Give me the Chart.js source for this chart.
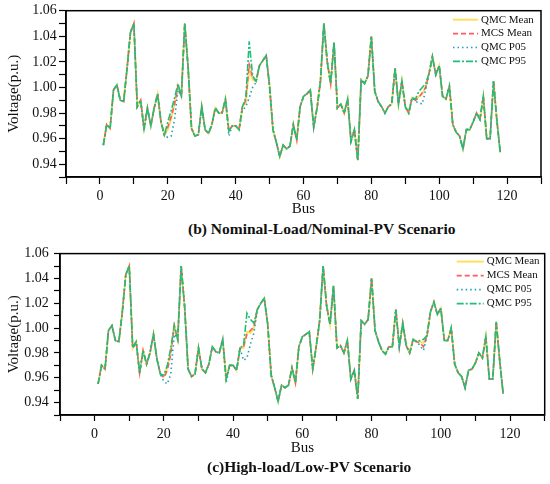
<!DOCTYPE html>
<html><head><meta charset="utf-8">
<script src="https://cdn.jsdelivr.net/npm/chart.js@4.4.0/dist/chart.umd.min.js"></script>
<style>
html,body{margin:0;padding:0;background:#fff;width:550px;height:484px;overflow:hidden;}
.wrap{position:absolute;left:0;width:550px;height:220px;}
.cap{position:absolute;white-space:nowrap;font:bold 15.5px "Liberation Serif",serif;color:#111;line-height:18px;}
</style></head><body>
<div class="wrap" style="top:0"><canvas id="chartB" width="550" height="220"></canvas></div>
<div class="wrap" style="top:240px"><canvas id="chartC" width="550" height="220"></canvas></div>
<div class="cap" id="capB" style="left:188px;top:220px">(b) Nominal-Load/Nominal-PV Scenario</div>
<div class="cap" id="capC" style="left:207px;top:458px">(c)High-load/Low-PV Scenario</div>
<script>
const BUS = [1,2,3,4,5,6,7,8,9,10,11,12,13,14,15,16,17,18,19,20,21,22,23,24,25,26,27,28,29,30,
31,32,33,34,35,36,37,38,39,40,41,42,43,44,45,46,47,48,49,50,51,52,53,54,55,56,57,58,59,60,
61,62,63,64,65,66,67,68,69,70,71,72,73,74,75,76,77,78,79,80,81,82,83,84,85,86,87,88,89,90,
91,92,93,94,95,96,97,98,99,100,101,102,103,104,105,106,107,108,109,110,111,112,113,114,115,116,117,118];

const SERIES_NAMES = ['QMC Mean','MCS Mean','QMC P05','QMC P95'];
const X_TICK_LABELS = [0,20,40,60,80,100,120];
const Y_TICK_LABELS = ['0.94','0.96','0.98','1.00','1.02','1.04','1.06'];

// (b) Nominal-Load / Nominal-PV
const B_QMC_MEAN = [0.955,0.971,0.968,0.998,1.002,0.990,0.989,1.015,1.043,1.050,
0.985,0.990,0.968,0.984,0.970,0.984,0.995,0.973,0.963,0.967,
0.976,0.987,1.001,0.993,1.050,1.015,0.968,0.962,0.963,0.985,
0.967,0.964,0.971,0.984,0.980,0.980,0.991,0.966,0.970,0.970,
0.967,0.985,0.988,1.015,1.006,1.005,1.017,1.021,1.025,1.001,
0.967,0.957,0.946,0.955,0.952,0.954,0.971,0.959,0.985,0.993,
0.995,0.998,0.969,0.984,1.005,1.050,1.020,1.003,1.035,0.984,
0.987,0.980,0.991,0.958,0.967,0.943,1.006,1.003,1.009,1.040,
0.997,0.989,0.985,0.980,0.985,0.987,1.015,0.987,1.005,0.985,
0.980,0.992,0.990,0.993,0.995,1.000,1.011,1.024,1.010,1.017,
0.993,0.991,1.001,0.971,0.965,0.962,0.952,0.967,0.967,0.973,
0.980,0.975,0.993,0.960,0.960,1.005,0.974,0.949];
const B_MCS_MEAN = [0.955,0.971,0.968,0.998,1.002,0.990,0.989,1.015,1.043,1.050,
0.985,0.990,0.968,0.984,0.970,0.984,0.995,0.973,0.963,0.969,
0.977,0.987,1.001,0.993,1.050,1.015,0.968,0.962,0.963,0.985,
0.967,0.964,0.971,0.984,0.980,0.980,0.991,0.966,0.970,0.970,
0.967,0.985,0.990,1.018,1.008,1.005,1.017,1.021,1.025,1.001,
0.967,0.957,0.946,0.955,0.952,0.954,0.971,0.959,0.985,0.993,
0.995,0.998,0.969,0.984,1.005,1.050,1.020,1.003,1.035,0.984,
0.987,0.980,0.991,0.958,0.967,0.943,1.006,1.003,1.009,1.040,
0.997,0.989,0.985,0.980,0.985,0.987,1.015,0.987,1.005,0.985,
0.980,0.992,0.990,0.992,0.996,1.000,1.011,1.024,1.010,1.017,
0.993,0.991,1.001,0.971,0.965,0.962,0.952,0.967,0.967,0.973,
0.980,0.975,0.993,0.960,0.960,1.005,0.974,0.949];
const B_QMC_P05 = [0.955,0.971,0.968,0.998,1.002,0.990,0.989,1.015,1.043,1.050,
0.985,0.990,0.966,0.984,0.970,0.984,0.995,0.973,0.962,0.961,
0.962,0.975,0.998,0.993,1.050,1.015,0.968,0.962,0.963,0.985,
0.967,0.964,0.971,0.984,0.980,0.980,0.990,0.962,0.970,0.970,
0.967,0.982,0.985,0.992,1.000,1.004,1.017,1.021,1.025,1.001,
0.967,0.957,0.946,0.955,0.952,0.954,0.971,0.959,0.985,0.993,
0.995,0.998,0.969,0.984,1.005,1.050,1.020,1.003,1.035,0.984,
0.987,0.980,0.991,0.958,0.967,0.943,1.006,1.003,1.009,1.040,
0.997,0.989,0.985,0.980,0.985,0.987,1.015,0.987,1.005,0.985,
0.980,0.992,0.989,0.988,0.987,0.998,1.011,1.024,1.010,1.017,
0.993,0.991,1.001,0.971,0.965,0.962,0.952,0.967,0.967,0.973,
0.980,0.975,0.993,0.960,0.960,1.005,0.974,0.949];
const B_QMC_P95 = [0.955,0.971,0.968,0.998,1.002,0.990,0.989,1.015,1.043,1.050,
0.985,0.990,0.968,0.984,0.970,0.984,0.995,0.973,0.963,0.973,
0.982,0.992,1.003,0.993,1.050,1.015,0.968,0.962,0.963,0.985,
0.967,0.964,0.971,0.984,0.980,0.980,0.991,0.966,0.970,0.970,
0.967,0.985,0.992,1.036,1.009,1.005,1.017,1.021,1.025,1.001,
0.967,0.957,0.946,0.955,0.952,0.954,0.971,0.959,0.985,0.993,
0.995,0.998,0.969,0.984,1.005,1.050,1.020,1.003,1.035,0.984,
0.987,0.980,0.991,0.958,0.967,0.943,1.006,1.003,1.009,1.040,
0.997,0.989,0.985,0.980,0.985,0.987,1.015,0.987,1.005,0.985,
0.980,0.992,0.991,0.997,1.000,1.003,1.011,1.024,1.010,1.017,
0.993,0.991,1.001,0.971,0.965,0.962,0.952,0.967,0.967,0.973,
0.980,0.975,0.993,0.960,0.960,1.005,0.974,0.949];

// (c) High-load / Low-PV
const C_QMC_MEAN = [0.955,0.970,0.967,0.998,1.002,0.990,0.989,1.013,1.043,1.050,
0.984,0.989,0.964,0.982,0.971,0.980,0.995,0.975,0.963,0.961,
0.968,0.982,1.002,0.991,1.050,1.017,0.967,0.961,0.963,0.984,
0.967,0.964,0.971,0.985,0.981,0.980,0.991,0.959,0.970,0.970,
0.966,0.984,0.984,0.997,0.996,1.000,1.015,1.020,1.024,1.003,
0.962,0.952,0.941,0.954,0.952,0.954,0.968,0.956,0.985,0.993,
0.995,0.997,0.967,0.985,1.006,1.050,1.018,1.003,1.034,0.984,
0.986,0.980,0.990,0.959,0.966,0.943,1.006,1.003,1.007,1.040,
0.998,0.989,0.982,0.979,0.985,0.985,1.015,0.985,1.004,0.986,
0.980,0.991,0.989,0.989,0.988,0.994,1.013,1.021,1.011,1.016,
0.990,0.990,1.000,0.971,0.964,0.961,0.952,0.966,0.967,0.972,
0.980,0.976,0.993,0.959,0.959,1.005,0.974,0.947];
const C_MCS_MEAN = [0.955,0.970,0.967,0.998,1.002,0.990,0.989,1.013,1.043,1.050,
0.984,0.989,0.964,0.982,0.971,0.980,0.995,0.975,0.963,0.960,
0.966,0.979,1.002,0.991,1.050,1.017,0.967,0.961,0.963,0.984,
0.967,0.964,0.971,0.985,0.981,0.980,0.991,0.959,0.970,0.970,
0.966,0.984,0.985,0.995,0.998,1.001,1.015,1.020,1.024,1.003,
0.962,0.952,0.941,0.954,0.952,0.954,0.968,0.956,0.985,0.993,
0.995,0.997,0.967,0.985,1.006,1.050,1.018,1.003,1.034,0.984,
0.986,0.980,0.990,0.959,0.966,0.943,1.006,1.003,1.007,1.040,
0.998,0.989,0.982,0.979,0.985,0.985,1.015,0.985,1.004,0.986,
0.980,0.991,0.989,0.988,0.985,0.994,1.013,1.021,1.011,1.016,
0.990,0.990,1.000,0.971,0.964,0.961,0.952,0.966,0.967,0.972,
0.980,0.976,0.993,0.959,0.959,1.005,0.974,0.947];
const C_QMC_P05 = [0.955,0.970,0.967,0.998,1.002,0.990,0.989,1.013,1.043,1.050,
0.984,0.989,0.963,0.982,0.971,0.980,0.995,0.975,0.963,0.957,
0.955,0.963,0.995,0.991,1.050,1.017,0.967,0.961,0.963,0.984,
0.967,0.964,0.971,0.985,0.981,0.980,0.991,0.956,0.970,0.970,
0.966,0.984,0.974,0.976,0.987,0.996,1.015,1.020,1.024,1.003,
0.962,0.952,0.941,0.954,0.952,0.954,0.968,0.956,0.985,0.993,
0.995,0.997,0.967,0.985,1.006,1.050,1.018,1.003,1.034,0.984,
0.986,0.980,0.990,0.959,0.966,0.943,1.006,1.003,1.007,1.040,
0.998,0.989,0.982,0.979,0.985,0.985,1.015,0.985,1.004,0.986,
0.980,0.991,0.989,0.986,0.982,0.994,1.013,1.021,1.011,1.016,
0.990,0.990,1.000,0.971,0.964,0.961,0.952,0.966,0.967,0.972,
0.980,0.976,0.993,0.959,0.959,1.005,0.974,0.947];
const C_QMC_P95 = [0.955,0.970,0.967,0.998,1.002,0.990,0.989,1.013,1.043,1.050,
0.984,0.989,0.964,0.982,0.971,0.980,0.995,0.975,0.963,0.962,
0.970,0.984,1.002,0.991,1.050,1.017,0.967,0.961,0.963,0.984,
0.967,0.964,0.971,0.985,0.981,0.980,0.991,0.959,0.970,0.970,
0.966,0.984,0.986,1.012,1.007,1.004,1.015,1.020,1.024,1.003,
0.962,0.952,0.941,0.954,0.952,0.954,0.968,0.956,0.985,0.993,
0.995,0.997,0.967,0.985,1.006,1.050,1.018,1.003,1.034,0.984,
0.986,0.980,0.990,0.959,0.966,0.943,1.006,1.003,1.007,1.040,
0.998,0.989,0.982,0.979,0.985,0.985,1.015,0.985,1.004,0.986,
0.980,0.991,0.989,0.990,0.991,0.994,1.013,1.021,1.011,1.016,
0.990,0.990,1.000,0.971,0.964,0.961,0.952,0.966,0.967,0.972,
0.980,0.976,0.993,0.959,0.959,1.005,0.974,0.947];

const FONT = '"Liberation Serif", "Times New Roman", serif';
const STYLES = [
  {color:'#FFE05C', dash:[], width:2, order:4},
  {color:'#FF5A64', dash:[5,3], width:1.6, order:3},
  {color:'#1AA3B8', dash:[1.5,3], width:1.6, order:2},
  {color:'#1FBF7A', dash:[7,2,2,2], width:1.6, order:1}
];

function pts(values){ return BUS.map((b,i)=>({x:b, y:values[i]})); }

const framePlugin = {
  id:'frame',
  afterDraw(chart){
    const {ctx, chartArea:a} = chart;
    ctx.save(); ctx.strokeStyle='#000'; ctx.lineWidth=1.5; ctx.setLineDash([]);
    ctx.strokeRect(a.left, a.top, a.right-a.left, a.bottom-a.top);
    ctx.restore();
  }
};
const legendPlugin = {
  id:'vlegend',
  afterDraw(chart, args, o){
    const {ctx, chartArea:a} = chart;
    ctx.save();
    chart.data.datasets.forEach((ds,i)=>{
      const y = a.top + o.top + i*o.gap;
      ctx.beginPath(); ctx.setLineDash(ds.borderDash||[]);
      ctx.strokeStyle = ds.borderColor; ctx.lineWidth = ds.borderWidth;
      ctx.moveTo(a.right-o.lineStart, y); ctx.lineTo(a.right-o.lineEnd, y); ctx.stroke();
      ctx.setLineDash([]);
      ctx.fillStyle='#111'; ctx.font = '11px '+FONT; ctx.textBaseline='middle'; ctx.textAlign='left';
      ctx.fillText(ds.label, a.right-o.textStart, y);
    });
    ctx.restore();
  }
};

function makeChart(id, seriesList, g){
  const datasets = seriesList.map((vals,i)=>({
    label: SERIES_NAMES[i], data: pts(vals),
    borderColor: STYLES[i].color, backgroundColor: STYLES[i].color,
    borderDash: STYLES[i].dash, borderWidth: STYLES[i].width, order: STYLES[i].order,
    pointRadius:0, tension:0, fill:false
  }));
  return new Chart(document.getElementById(id), {
    type:'line',
    data:{datasets},
    options:{
      responsive:false, animation:false, devicePixelRatio:1,
      layout:{padding:{top:g.padTop, right:g.padRight, left:0, bottom:0}},
      plugins:{legend:{display:false}, tooltip:{enabled:false},
        vlegend:{top:g.legTop, gap:g.legGap, lineStart:88, lineEnd:g.legLineEnd, textStart:g.legText}},
      scales:{
        x:{type:'linear', min:-10, max:130,
          ticks:{stepSize:10, autoSkip:false, maxRotation:0, padding:g.xPad, color:'#111',
            font:{family:FONT, size:14},
            callback:v=>X_TICK_LABELS.includes(v)?String(v):''},
          grid:{drawOnChartArea:false, drawTicks:true, tickLength:g.tick, tickColor:'#000', tickWidth:1.2},
          border:{display:true, color:'#000', width:1.5},
          title:{display:true, text:'Bus', color:'#111', font:{family:FONT, size:15}, padding:{top:0, bottom:g.busPad}},
          afterFit:s=>{ s.height = g.xH; }
        },
        y:{type:'linear', min:0.93, max:1.06,
          ticks:{stepSize:0.01, autoSkip:false, padding:g.yPad, color:'#111',
            font:{family:FONT, size:14},
            callback:v=>{ const s=(Math.round(v*100)/100).toFixed(2); return Y_TICK_LABELS.includes(s)?s:''; }},
          grid:{drawOnChartArea:false, drawTicks:true, tickLength:g.tick, tickColor:'#000', tickWidth:1.2},
          border:{display:true, color:'#000', width:1.5},
          title:{display:true, text:'Voltage(p.u.)', color:'#111', font:{family:FONT, size:15}, padding:{top:5, bottom:0}},
          afterFit:s=>{ s.width = g.yW; }
        }
      }
    },
    plugins:[framePlugin, legendPlugin]
  });
}

makeChart('chartB', [B_QMC_MEAN, B_MCS_MEAN, B_QMC_P05, B_QMC_P95],
  {padTop:9, padRight:9, yW:66, xH:43, tick:7, xPad:3.6, yPad:2.3, busPad:1.7,
   legTop:9, legGap:13.9, legLineEnd:63, legText:60});
makeChart('chartC', [C_QMC_MEAN, C_MCS_MEAN, C_QMC_P05, C_QMC_P95],
  {padTop:7, padRight:4, yW:60, xH:45, tick:6, xPad:5.3, yPad:5.2, busPad:3,
   legTop:8, legGap:14, legLineEnd:61, legText:58});
</script>
</body></html>
